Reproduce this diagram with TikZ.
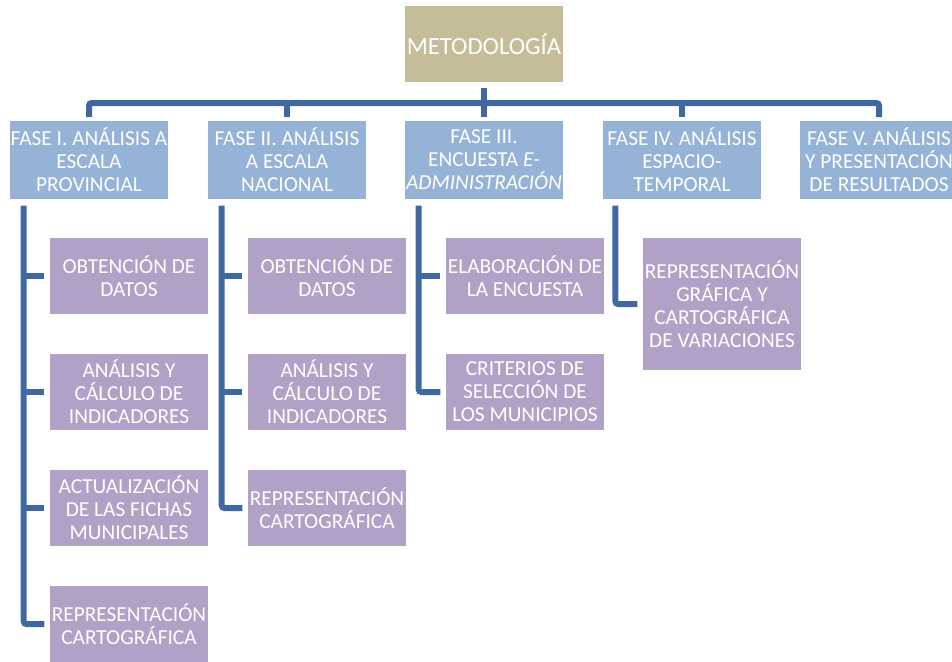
\documentclass[tikz,border=0pt]{standalone}
\usepackage{fontspec}
\setmainfont{Carlito}
\definecolor{rootfill}{HTML}{C4BD97}
\definecolor{phasefill}{HTML}{95B3D7}
\definecolor{taskfill}{HTML}{B2A1C7}
\definecolor{linkblue}{RGB}{64,104,160}
\tikzset{
  box/.style={draw=none,text=white,align=center,inner sep=0pt,
    minimum width=118.5pt,minimum height=57pt,
    font=\fontsize{16}{17.3}\selectfont},
  rootbox/.style={box,fill=rootfill,font=\fontsize{18.5}{20}\selectfont},
  phasebox/.style={box,fill=phasefill,minimum height=58pt},
  taskbox/.style={box,fill=taskfill},
  link/.style={draw=linkblue,line width=4.5pt,rounded corners=2pt}
}
\begin{document}
\begin{tikzpicture}[x=0.75pt,y=-0.75pt]
\useasboundingbox (0,0) rectangle (952,661);
% root and phases
\node[rootbox] (root) at (484,44) {METODOLOGÍA};
\node[phasebox] (p1) at (89,160) {FASE I. ANÁLISIS A\\ESCALA\\PROVINCIAL};
\node[phasebox] (p2) at (287,160) {FASE II. ANÁLISIS\\A ESCALA\\NACIONAL};
\node[phasebox] (p3) at (484,160) {FASE III.\\ENCUESTA \textit{E-}\\\textit{ADMINISTRACIÓN}};
\node[phasebox] (p4) at (682,160) {FASE IV. ANÁLISIS\\ESPACIO-\\TEMPORAL};
\node[phasebox] (p5) at (879,160) {FASE V. ANÁLISIS\\Y PRESENTACIÓN\\DE RESULTADOS};
% tasks
\node[taskbox] (c11) at (129,276) {OBTENCIÓN DE\\DATOS};
\node[taskbox] (c12) at (129,392) {ANÁLISIS Y\\CÁLCULO DE\\INDICADORES};
\node[taskbox] (c13) at (129,508) {ACTUALIZACIÓN\\DE LAS FICHAS\\MUNICIPALES};
\node[taskbox] (c14) at (129,624) {REPRESENTACIÓN\\CARTOGRÁFICA};
\node[taskbox] (c21) at (327,276) {OBTENCIÓN DE\\DATOS};
\node[taskbox] (c22) at (327,392) {ANÁLISIS Y\\CÁLCULO DE\\INDICADORES};
\node[taskbox] (c23) at (327,508) {REPRESENTACIÓN\\CARTOGRÁFICA};
\node[taskbox] (c31) at (525,276) {ELABORACIÓN DE\\LA ENCUESTA};
\node[taskbox] (c32) at (525,392) {CRITERIOS DE\\SELECCIÓN DE\\LOS MUNICIPIOS};
\node[taskbox,minimum height=99pt] (c41) at (722,304) {REPRESENTACIÓN\\GRÁFICA Y\\CARTOGRÁFICA\\DE VARIACIONES};
% connectors to phases
\coordinate (bar) at (484,103);
\draw[link] ([yshift=-4.5pt]root.south) -- ([yshift=3pt]p3.north);
\draw[link] ([yshift=3pt]p1.north) |- (bar) -| ([yshift=3pt]p5.north);
\draw[link] ([yshift=3pt]p2.north) -- (p2.north |- bar);
\draw[link] ([yshift=3pt]p4.north) -- (p4.north |- bar);
% trunks
\coordinate (t1) at ([xshift=10.5pt,yshift=-5pt]p1.south west);
\coordinate (t2) at ([xshift=10.5pt,yshift=-5pt]p2.south west);
\coordinate (t3) at ([xshift=10.5pt,yshift=-5pt]p3.south west);
\coordinate (t4) at ([xshift=9.5pt,yshift=-5pt]p4.south west);
\draw[link] (t1) |- ([xshift=-4pt]c14.west);
\draw[link] (t1 |- c11.west) -- ([xshift=-4pt]c11.west);
\draw[link] (t1 |- c12.west) -- ([xshift=-4pt]c12.west);
\draw[link] (t1 |- c13.west) -- ([xshift=-4pt]c13.west);
\draw[link] (t2) |- ([xshift=-4pt]c23.west);
\draw[link] (t2 |- c21.west) -- ([xshift=-4pt]c21.west);
\draw[link] (t2 |- c22.west) -- ([xshift=-4pt]c22.west);
\draw[link] (t3) |- ([xshift=-4pt]c32.west);
\draw[link] (t3 |- c31.west) -- ([xshift=-4pt]c31.west);
\draw[link] (t4) |- ([xshift=-4pt]c41.west);
\end{tikzpicture}
\end{document}
